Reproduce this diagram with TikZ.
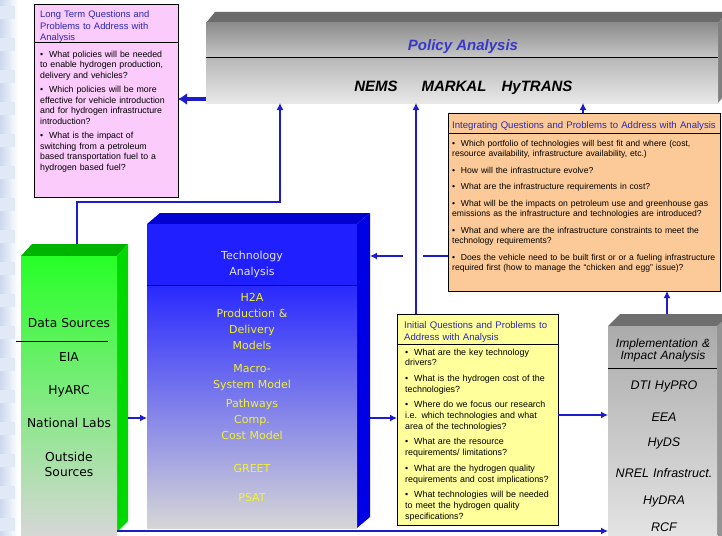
\documentclass[tikz,border=0pt]{standalone}
\usepackage{fontspec}
\setmainfont{Liberation Sans}
\newfontfamily\wideSans{DejaVu Sans}
\usetikzlibrary{arrows.meta,calc}

\definecolor{linkblue}{HTML}{1C1CCC}
\definecolor{headblue}{HTML}{2828B0}
\definecolor{pinkfill}{HTML}{FBCBFB}
\definecolor{orangefill}{HTML}{FCCA98}
\definecolor{yellowfill}{HTML}{FFFF9C}
\definecolor{policyblue}{HTML}{3838C8}
\definecolor{techyellow}{HTML}{F2F232}
\definecolor{techgrey}{HTML}{E2E2E2}
\definecolor{bgblue}{HTML}{CBD8EE}
\definecolor{bgband}{HTML}{E2E9F6}

\tikzset{
  geom/.style={rectangle, inner sep=0pt, outer sep=0pt, anchor=north west},
  qbox/.style={geom, draw=black, line width=1pt},
  qhead/.style={anchor=base west, inner sep=0pt, text width=300pt, align=left,
    text=headblue, font=\fontsize{9.4}{11.5}\selectfont},
  qbody/.style={anchor=base west, inner sep=0pt, text width=300pt, align=left,
    font=\fontsize{8.8}{10.5}\selectfont},
  techtext/.style={anchor=base, inner sep=0pt, text width=200pt, align=center,
    font=\wideSans\fontsize{11}{16.2}\selectfont},
  datatext/.style={anchor=base, inner sep=0pt, text width=120pt, align=center,
    font=\wideSans\fontsize{12.3}{15}\selectfont},
  impltext/.style={anchor=base, inner sep=0pt, text width=140pt, align=center,
    font=\itshape\fontsize{12.5}{15}\selectfont},
  modeltext/.style={anchor=base, inner sep=0pt,
    font=\bfseries\itshape\fontsize{15}{18}\selectfont},
  link/.style={draw=linkblue, line width=1.3pt, -{Latex[length=7pt,width=7pt]}},
  plainlink/.style={draw=linkblue, line width=1.3pt},
  biglink/.style={draw=linkblue, line width=4pt, -{Latex[length=9pt,width=12pt]}},
  divider/.style={draw=black, line width=1pt},
}

\begin{document}
\begin{tikzpicture}[x=1pt,y=-1pt]
\useasboundingbox (0,0) rectangle (722,535);

% ---- backdrop ----
\fill[white] (0,0) rectangle (722,535);
\shade[left color=bgblue, right color=white] (0,0) rectangle (18,535);
\foreach \yy in {6,38,...,534} \fill[bgband] (0,\yy) rectangle (15,\yy+13);

% ---- box outlines used for placement and connectors ----
\node[geom, minimum width=512pt, minimum height=80pt]  (policy) at (206,23) {};
\node[geom, minimum width=210pt, minimum height=304pt] (tech)   at (147,224) {};
\node[geom, minimum width=96pt,  minimum height=279pt] (data)   at (21,256) {};
\node[geom, minimum width=109pt, minimum height=209pt] (impl)   at (608,326) {};

% ---- Policy Analysis block ----
\fill[black!58] (policy.north west) -- ++(9,-11) -- ++(512,0) -- (policy.north east) -- cycle;
\fill[black!50] (policy.north east) -- ++(9,-11) -- ++(0,80) -- (policy.south east) -- cycle;
\shade[top color=black!45, bottom color=black!22]
  (policy.north west) rectangle ([yshift=-35pt]policy.north east);
\shade[top color=black!28, bottom color=black!9]
  ([yshift=-35pt]policy.north west) rectangle (policy.south east);
\draw[divider] ([yshift=-35pt]policy.north west) -- ([yshift=-35pt]policy.north east);
\node[modeltext, text=policyblue] (policytitle) at (463,51) {Policy Analysis};
\node[modeltext] (nems)   at (376,91) {NEMS};
\node[modeltext] (markal) at (454,91) {MARKAL};
\node[modeltext] (hytrans) at (537,91) {HyTRANS};

% ---- Technology Analysis block ----
\fill[blue!82!black] (tech.north west) -- ++(13,-11) -- ++(210,0) -- (tech.north east) -- cycle;
\fill[blue!90!black] (tech.north east) -- ++(13,-11) -- ++(0,304) -- (tech.south east) -- cycle;
\fill[blue!88!white] (tech.north west) rectangle ([yshift=-61pt]tech.north east);
\shade[top color=blue!84!white, middle color=blue!45!black!15, bottom color=black!16]
  ([yshift=-61pt]tech.north west) rectangle (tech.south east);
\draw[draw=blue!40!black, line width=1pt] ([yshift=-61pt]tech.north west) -- ([yshift=-61pt]tech.north east);
\node[techtext, text=techgrey] (techtitle) at (252,259) {Technology\\Analysis};
\node[techtext, text=techyellow] (h2a)     at (252,301) {H2A\\Production \&\\Delivery\\Models};
\node[techtext, text=techyellow] (macro)   at (252,372) {Macro-\\System Model};
\node[techtext, text=techyellow] (pathway) at (252,407) {Pathways\\Comp.\\Cost Model};
\node[techtext, text=techyellow] (greet)   at (252,472) {GREET};
\node[techtext, text=techyellow] (psat)    at (252,501) {PSAT};

% ---- Data Sources block ----
\fill[green!70!black] (data.north west) -- ++(11,-12) -- ++(96,0) -- (data.north east) -- cycle;
\fill[green!85!black] (data.north east) -- ++(11,-12) -- ++(0,277) -- ([yshift=3pt]data.south east) -- cycle;
\shade[top color=green!85!white, middle color=green!40!black!12, bottom color=black!16]
  (data.north west) rectangle (data.south east);
\coordinate (rowG) at (0,341);
\draw[divider] ($(data.west |- rowG)+(-5,0)$) -- ($(data.east |- rowG)+(-9,0)$);
\node[datatext] (dstitle)  at (69,327.5) {Data Sources};
\node[datatext] (eia)      at (69,361.5) {EIA};
\node[datatext] (hyarc)    at (69,394.5) {HyARC};
\node[datatext] (labs)     at (69,427.5) {National Labs};
\node[datatext] (outside)  at (69,461.5) {Outside\\Sources};

% ---- Implementation & Impact Analysis block ----
\fill[black!57] (impl.north west) -- ++(12,-12) -- ++(120,0) -- (impl.north east) -- cycle;
\fill[black!42] (impl.north east) -- ++(13,-12) -- ++(0,230) -- (impl.south east) -- cycle;
\shade[top color=black!33, bottom color=black!11] (impl.north west) rectangle (impl.south east);
\draw[divider] ([yshift=-42pt]impl.north west) -- ([yshift=-42pt]impl.north east);
\node[impltext, font=\itshape\fontsize{12}{12.5}\selectfont] (impltitle) at (663,347) {Implementation \&\\Impact Analysis};
\node[impltext] (hypro) at (664,389.5) {DTI HyPRO};
\node[impltext] (eea)   at (664,421.5) {EEA};
\node[impltext] (hyds)  at (664,446.5) {HyDS};
\node[impltext] (nrel)  at (664,477.5) {NREL Infrastruct.};
\node[impltext] (hydra) at (664,504.5) {HyDRA};
\node[impltext] (rcf)   at (664,531.5) {RCF};

% ---- question boxes ----
\node[qbox, fill=pinkfill,   minimum width=144pt, minimum height=192pt] (pink)   at (34,5) {};
\node[qbox, fill=orangefill, minimum width=272pt, minimum height=178pt] (orange) at (448,113) {};
\node[qbox, fill=yellowfill, minimum width=161pt, minimum height=211pt] (yellow) at (397,314) {};

\draw[divider] ([yshift=-38pt]pink.north west) -- ([yshift=-38pt]pink.north east);
\draw[divider] ([yshift=-20pt]orange.north west) -- ([yshift=-20pt]orange.north east);
\draw[divider] ([yshift=-30pt]yellow.north west) -- ([yshift=-30pt]yellow.north east);

\node[qhead] (pinkhead) at (40,18) {Long Term Questions and\\Problems to Address with\\Analysis};
\node[qbody] (pinkbody) at (40,57) {%
\textbullet\ \ What policies will be needed\\
to enable hydrogen production,\\
delivery and vehicles?\\[4pt]
\textbullet\ \ Which policies will be more\\
effective for vehicle introduction\\
and for hydrogen infrastructure\\
introduction?\\[4pt]
\textbullet\ \ What is the impact of\\
switching from a petroleum\\
based transportation fuel to a\\
hydrogen based fuel?};

\node[qhead, font=\fontsize{9.6}{11.5}\selectfont] (orangehead) at (452,128) {Integrating Questions and Problems to Address with Analysis};
\node[qbody, font=\fontsize{8.6}{10.5}\selectfont] (orangebody) at (452,146) {%
\textbullet\ \ Which portfolio of technologies will best fit and where (cost,\\
resource availability, infrastructure availability, etc.)\\[6pt]
\textbullet\ \ How will the infrastructure evolve?\\[6pt]
\textbullet\ \ What are the infrastructure requirements in cost?\\[6pt]
\textbullet\ \ What will be the impacts on petroleum use and greenhouse gas\\
emissions as the infrastructure and technologies are introduced?\\[6pt]
\textbullet\ \ What and where are the infrastructure constraints to meet the\\
technology requirements?\\[6pt]
\textbullet\ \ Does the vehicle need to be built first or or a fueling infrastructure\\
required first (how to manage the ``chicken and egg'' issue)?};

\node[qhead, font=\fontsize{9.6}{12}\selectfont] (yellowhead) at (404,328) {Initial Questions and Problems to\\Address with Analysis};
\node[qbody, font=\fontsize{8.9}{10.7}\selectfont] (yellowbody) at (405,355) {%
\textbullet\ \ What are the key technology\\
drivers?\\[5pt]
\textbullet\ \ What is the hydrogen cost of the\\
technologies?\\[5pt]
\textbullet\ \ Where do we focus our research\\
i.e. which technologies and what\\
area of the technologies?\\[5pt]
\textbullet\ \ What are the resource\\
requirements/ limitations?\\[5pt]
\textbullet\ \ What are the hydrogen quality\\
requirements and cost implications?\\[5pt]
\textbullet\ \ What technologies will be needed\\
to meet the hydrogen quality\\
specifications?};

% ---- connector rows and columns ----
\coordinate (rowA) at (0,418);
\coordinate (rowB) at (0,415);
\coordinate (rowC) at (0,531);
\coordinate (rowD) at (0,256);
\coordinate (rowE) at (0,202);
\coordinate (rowF) at (0,99);
\coordinate (colA) at (77,0);
\coordinate (colB) at (280,0);
\coordinate (colC) at (416,0);
\coordinate (colD) at (583,0);
\coordinate (colE) at (667,0);
\coordinate (datatop) at ([yshift=12pt]data.north);
\coordinate (dataside) at ([xshift=11pt]data.east);
\coordinate (techside) at ([xshift=13pt]tech.east);
\coordinate (impltop) at ([yshift=12pt]impl.north);

% ---- connectors ----
\draw[biglink] (policy.west |- rowF) -- (pink.east |- rowF);
\draw[link] (colA |- datatop) -- (colA |- rowE) -- (colB |- rowE) -- (colB |- policy.south);
\draw[link] (colC |- yellow.north) -- (colC |- policy.south);
\draw[plainlink] (orange.west |- rowD) -- ($(colC |- rowD)+(7,0)$);
\draw[link] ($(colC |- rowD)+(-13,0)$) -- (techside |- rowD);
\draw[link] (colD |- orange.north) -- (colD |- policy.south);
\draw[link] (colE |- impltop) -- (colE |- orange.south);
\draw[link] (dataside |- rowA) -- (tech.west |- rowA);
\draw[link] (techside |- rowA) -- (yellow.west |- rowA);
\draw[link] (yellow.east |- rowB) -- (impl.west |- rowB);
\draw[link] (data.east |- rowC) -- (impl.west |- rowC);
\end{tikzpicture}
\end{document}
